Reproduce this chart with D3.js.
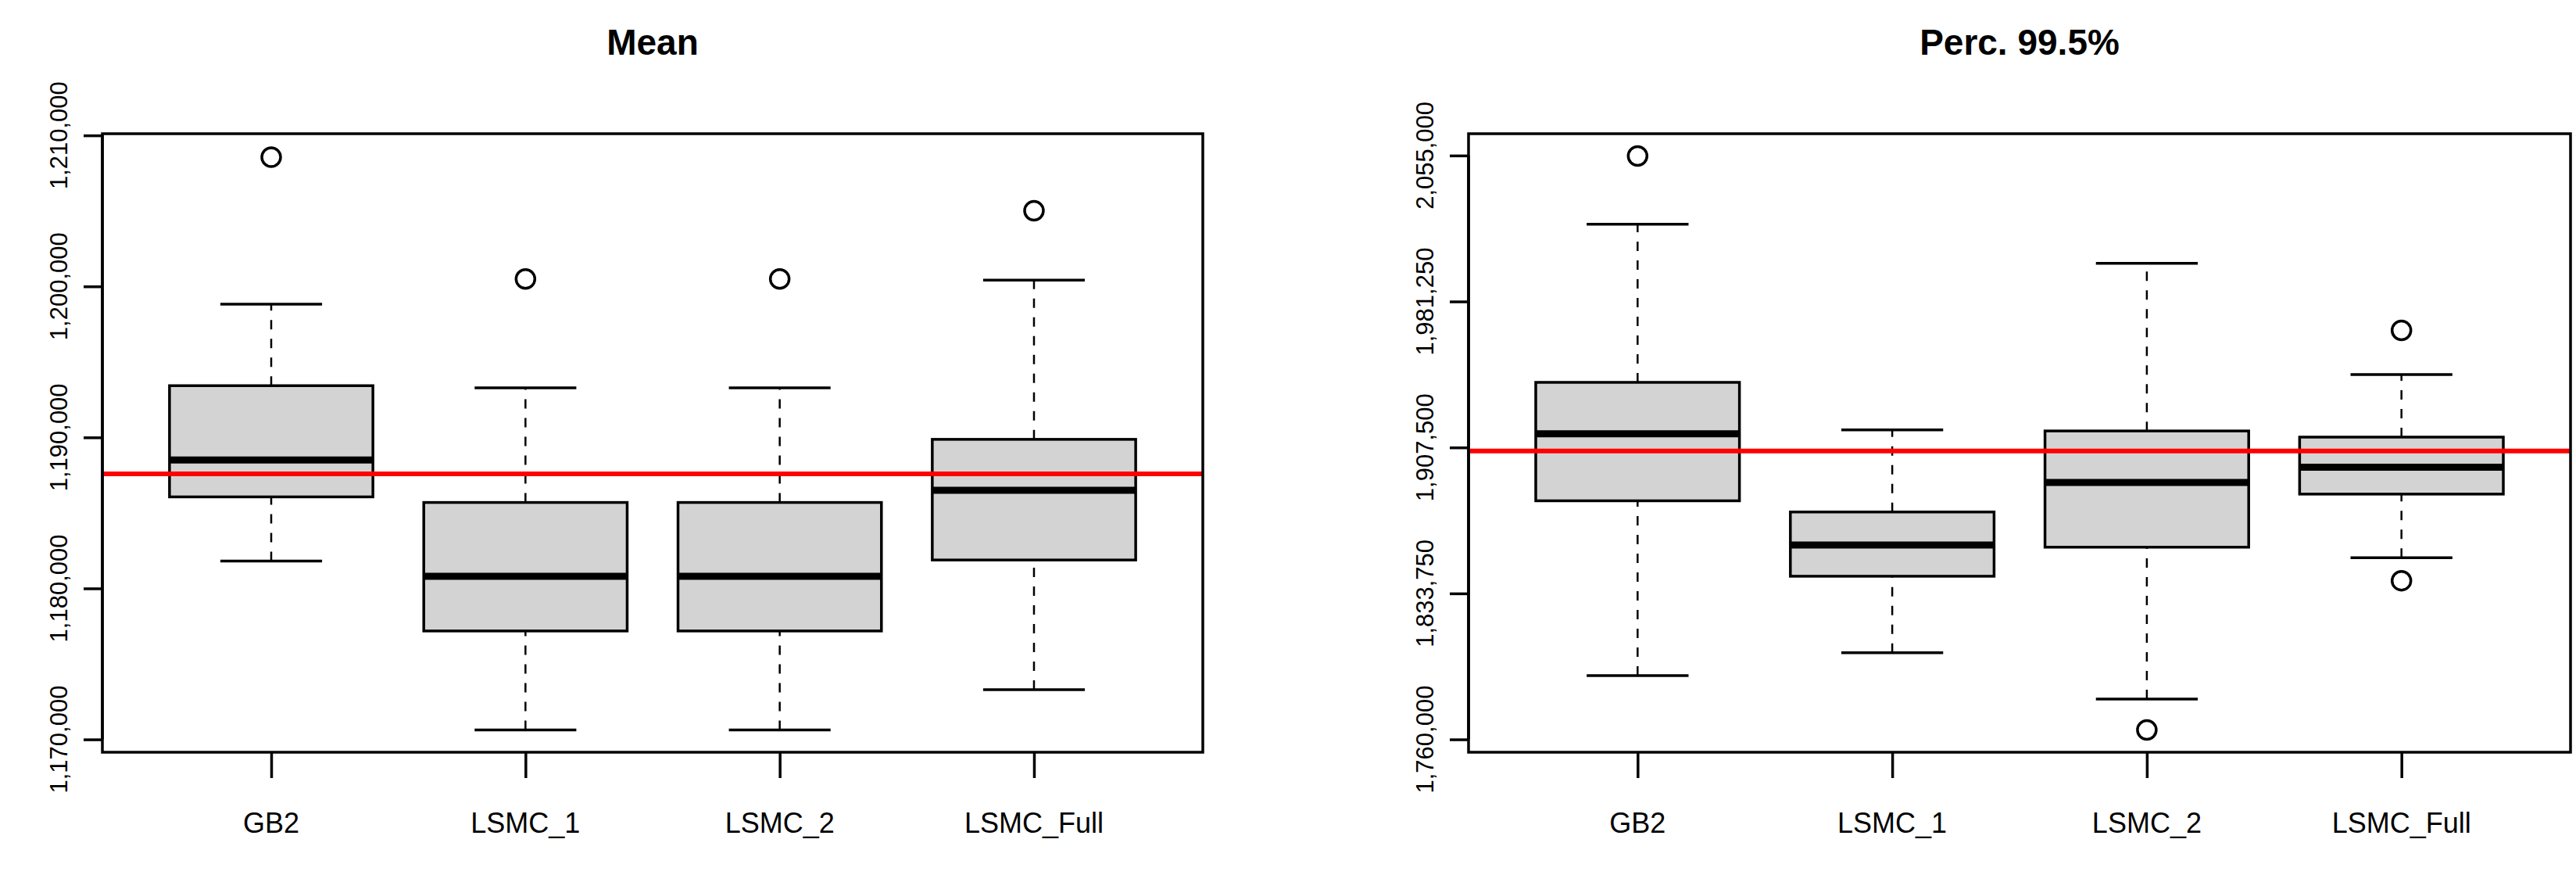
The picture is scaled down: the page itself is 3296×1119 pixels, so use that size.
<!DOCTYPE html>
<html><head><meta charset="utf-8">
<script src="https://cdn.jsdelivr.net/npm/d3@7"></script>
<style>body{margin:0;background:#fff}svg{display:block}</style>
</head><body>
<svg id="chart" width="3296" height="1119"></svg>
<script>
var categories = ["GB2", "LSMC_1", "LSMC_2", "LSMC_Full"];

// [whiskerLow, Q1, median, Q3, whiskerHigh]
var meanStats = [
  [1181805, 1186060, 1188502, 1193424, 1198826],
  [1170630, 1177180, 1180806, 1185690, 1193276],
  [1170630, 1177180, 1180806, 1185690, 1193276],
  [1173295, 1181880, 1186503, 1189870, 1200416]
];
var meanOutliers = [[1208557], [1200490], [1200490], [1205005]];
var meanRef = 1187580;
var meanTicks = [1170000, 1180000, 1190000, 1200000, 1210000];

var percStats = [
  [1792179, 1880539, 1914415, 1940386, 2020277],
  [1803753, 1842428, 1858237, 1874893, 1916391],
  [1780322, 1857108, 1889854, 1915826, 2000516],
  [1851744, 1883926, 1897476, 1912720, 1944338]
];
var percOutliers = [[2054718], [], [1764796], [1966640, 1840170]];
var percRef = 1905664;
var percTicks = [1760000, 1833750, 1907500, 1981250, 2055000];

var svg = d3.select("#chart");
var fmt = d3.format(",");

function panel(opts) {
  var g = svg.append("g");
  var x = d3.scaleLinear().domain([0.336, 4.664]).range([opts.left, opts.right]);
  var y = d3.scaleLinear().domain(opts.domain).range([962, 171]);
  var hw = 0.4;

  opts.stats.forEach(function (s, i) {
    var cx = x(i + 1);
    // dashed whiskers
    g.append("line").attr("x1", cx).attr("x2", cx).attr("y1", y(s[0])).attr("y2", y(s[1]))
      .style("stroke", "black").style("stroke-width", 2.5).style("stroke-dasharray", "12,12");
    g.append("line").attr("x1", cx).attr("x2", cx).attr("y1", y(s[3])).attr("y2", y(s[4]))
      .style("stroke", "black").style("stroke-width", 2.5).style("stroke-dasharray", "12,12");
    // caps
    [s[0], s[4]].forEach(function (v) {
      g.append("line").attr("x1", x(i + 1 - hw / 2)).attr("x2", x(i + 1 + hw / 2))
        .attr("y1", y(v)).attr("y2", y(v)).style("stroke", "black").style("stroke-width", 3.5);
    });
    g.append("rect").attr("x", x(i + 1 - hw)).attr("width", x(i + 1 + hw) - x(i + 1 - hw))
      .attr("y", y(s[3])).attr("height", y(s[1]) - y(s[3]))
      .style("fill", "#d3d3d3").style("stroke", "black").style("stroke-width", 3.5);
    g.append("line").attr("x1", x(i + 1 - hw)).attr("x2", x(i + 1 + hw))
      .attr("y1", y(s[2])).attr("y2", y(s[2])).style("stroke", "black").style("stroke-width", 9);
    opts.outliers[i].forEach(function (v) {
      g.append("circle").attr("cx", cx).attr("cy", y(v)).attr("r", 12)
        .style("fill", "none").style("stroke", "black").style("stroke-width", 3.5);
    });
  });

  g.append("line").attr("x1", opts.left).attr("x2", opts.right)
    .attr("y1", y(opts.ref)).attr("y2", y(opts.ref))
    .style("stroke", "red").style("stroke-width", 6);

  g.append("rect").attr("x", opts.left).attr("y", 171)
    .attr("width", opts.right - opts.left).attr("height", 962 - 171)
    .style("fill", "none").style("stroke", "black").style("stroke-width", 3.5);

  // y axis
  var ya = g.append("g").attr("transform", "translate(" + opts.left + ",0)")
    .call(d3.axisLeft(y).tickValues(opts.ticks).tickSize(24).tickFormat(""));
  ya.select(".domain").attr("d", "M0," + y(opts.ticks[0]) + "V" + y(opts.ticks[opts.ticks.length - 1]))
    .style("stroke-width", 3.5);
  ya.selectAll(".tick line").style("stroke-width", 3.5);
  opts.ticks.forEach(function (t) {
    g.append("text").attr("transform", "translate(" + (opts.left - 56) + "," + y(t) + ") rotate(-90)")
      .attr("text-anchor", "middle").attr("dy", "0.35em")
      .style("font-family", "Liberation Sans, Arial, sans-serif").style("font-size", "31px")
      .text(fmt(t));
  });

  // x axis
  var xa = g.append("g").attr("transform", "translate(0,962)")
    .call(d3.axisBottom(x).tickValues([1, 2, 3, 4]).tickSize(33).tickFormat(""));
  xa.select(".domain").remove();
  xa.selectAll(".tick line").style("stroke-width", 3.5);
  categories.forEach(function (c, i) {
    g.append("text").attr("x", x(i + 1)).attr("y", 1065).attr("text-anchor", "middle")
      .style("font-family", "Liberation Sans, Arial, sans-serif").style("font-size", "36px")
      .text(c);
  });

  g.append("text").attr("x", (opts.left + opts.right) / 2).attr("y", 70).attr("text-anchor", "middle")
    .style("font-family", "Liberation Sans, Arial, sans-serif").style("font-size", "46px")
    .style("font-weight", "bold").text(opts.title);
}

panel({ left: 131, right: 1539, domain: [1169150, 1210110], stats: meanStats,
  outliers: meanOutliers, ref: meanRef, ticks: meanTicks, title: "Mean" });
panel({ left: 1879, right: 3289, domain: [1753505, 2066010], stats: percStats,
  outliers: percOutliers, ref: percRef, ticks: percTicks, title: "Perc. 99.5%" });
</script>
</body></html>
